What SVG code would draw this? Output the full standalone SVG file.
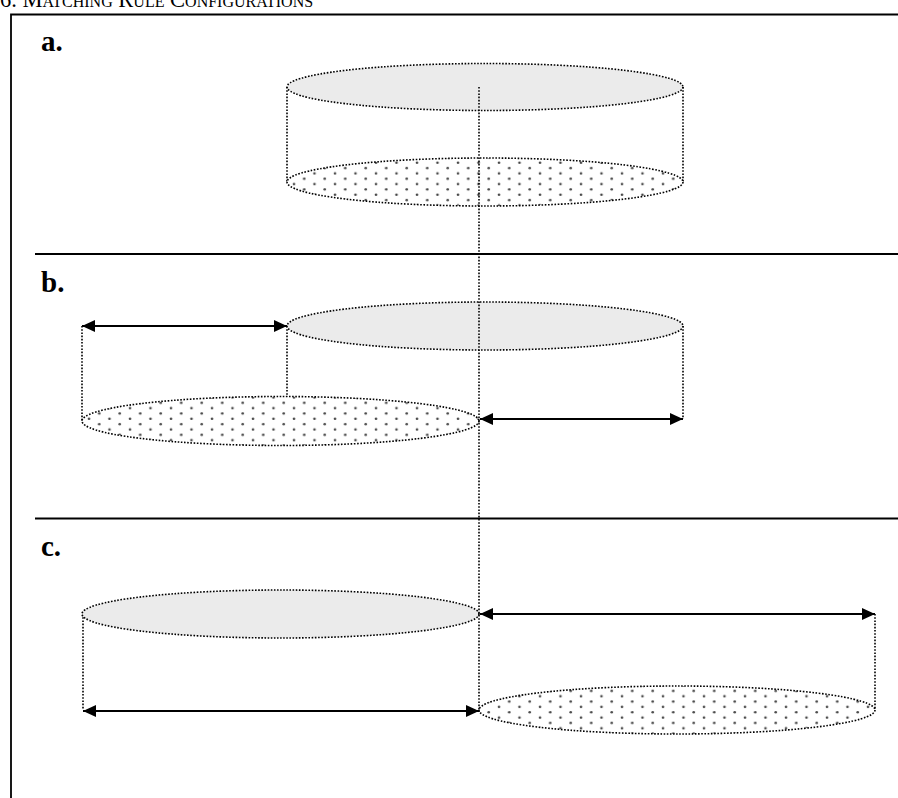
<svg xmlns="http://www.w3.org/2000/svg" width="898" height="798" viewBox="0 0 898 798">
<defs>
<style>
.frame{stroke:#000;stroke-width:1.8;fill:none}
.dot{stroke:#000;stroke-width:1.6;stroke-dasharray:1.6 1.6;fill:none}
.top{fill:#ebebeb;stroke:#000;stroke-width:1.6;stroke-dasharray:1.6 1.6}
.bot{fill:url(#dots);stroke:#000;stroke-width:1.6;stroke-dasharray:1.6 1.6}
.arr{stroke:#000;stroke-width:2;fill:none;marker-start:url(#ah);marker-end:url(#ah)}
.lbl{font-family:"Liberation Serif",serif;font-weight:bold;font-size:29px;fill:#000}
.title{font-family:"Liberation Serif",serif;font-size:22.5px;font-variant:small-caps;fill:#000}
</style>
<pattern id="dots" patternUnits="userSpaceOnUse" x="2" y="0" width="20.5" height="10.67">
<rect width="20.5" height="10.67" fill="#fff"/>
<circle cx="5" cy="2.7" r="1.3" fill="#444"/>
<circle cx="15.25" cy="8" r="1.3" fill="#444"/>
</pattern>
<marker id="ah" viewBox="0 0 13 12" refX="13" refY="6" markerWidth="13" markerHeight="12" markerUnits="userSpaceOnUse" orient="auto-start-reverse">
<path d="M0,0 L13,6 L0,12 z" fill="#000"/>
</marker>
</defs>
<rect width="898" height="798" fill="#fff"/>
<text class="title" x="0" y="7">6. Matching Rule Configurations</text>
<g id="frame">
<path class="frame" d="M11,798 V14.5 H898"/>
<path class="frame" d="M35,254 H898"/>
<path class="frame" d="M35,518.5 H898"/>
</g>
<g id="section-a">
<text class="lbl" x="41" y="51">a.</text>
<g id="a-top-disc"><ellipse class="top" cx="485" cy="87" rx="198" ry="23.5"/></g>
<path class="dot" d="M287,87 V182 M683,87 V182"/>
<g id="a-bottom-disc"><ellipse class="bot" cx="485" cy="182" rx="198" ry="24"/></g>
</g>
<g id="section-b">
<text class="lbl" x="41" y="292">b.</text>
<path class="dot" d="M82,326 V421 M287,326 V421 M683,326 V419"/>
<g id="b-top-disc"><ellipse class="top" cx="485" cy="326" rx="198" ry="24"/></g>
<g id="b-bottom-disc"><ellipse class="bot" cx="280.5" cy="421" rx="198.5" ry="24.5"/></g>
</g>
<g id="section-c">
<text class="lbl" x="41" y="556">c.</text>
<path class="dot" d="M83,614 V710 M875,614 V710"/>
<g id="c-top-disc"><ellipse class="top" cx="280.5" cy="614" rx="198.5" ry="24"/></g>
<g id="c-bottom-disc"><ellipse class="bot" cx="677" cy="710" rx="198" ry="24"/></g>
</g>
<g id="connectors">
<path class="dot" d="M479,87 V712"/>
<line class="arr" x1="82" y1="326" x2="287" y2="326"/>
<line class="arr" x1="480" y1="419" x2="683" y2="419"/>
<line class="arr" x1="480" y1="614" x2="875" y2="614"/>
<line class="arr" x1="83" y1="711" x2="479" y2="711"/>
</g>
</svg>
